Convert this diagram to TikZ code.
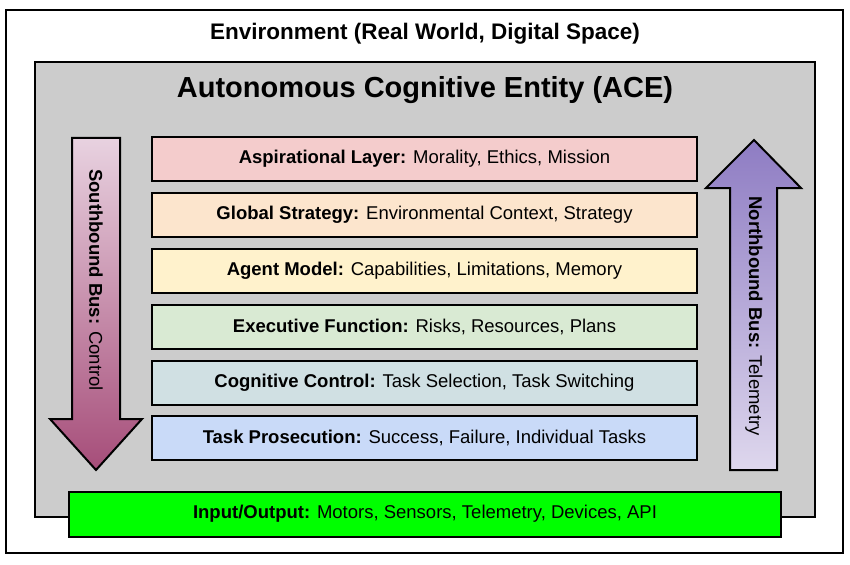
\documentclass[tikz,border=0pt]{standalone}
\usepackage{fontspec}
\setmainfont{Liberation Sans}
\begin{document}
\begin{tikzpicture}[x=1pt,y=-1pt,line width=2pt,
 layer/.style={draw=black,minimum width=545pt,minimum height=44pt,font=\fontsize{18.5}{22}\selectfont,inner sep=0pt},
 lbl/.style={font=\fontsize{18.5}{22}\selectfont,rotate=-90}]
\definecolor{c1}{HTML}{F4CCCC}\definecolor{c2}{HTML}{FCE5CD}\definecolor{c3}{HTML}{FFF2CC}
\definecolor{c4}{HTML}{D9EAD3}\definecolor{c5}{HTML}{D0E0E3}\definecolor{c6}{HTML}{C9DAF8}
\useasboundingbox[fill=white] (0,0) rectangle (850,564);
\draw[fill=white] (6,10) rectangle (843,553);
\node[font=\bfseries\fontsize{22.5}{26}\selectfont] (env) at (425,34) {Environment (Real World, Digital Space)};
\draw[fill=black!20] (35,62) rectangle (815,517);
\node[font=\bfseries\fontsize{29}{32}\selectfont] (ace) at (425,90) {Autonomous Cognitive Entity (ACE)};
\node[layer,fill=c1] (l1) at (424.5,159) {\textbf{Aspirational Layer:} Morality, Ethics, Mission};
\node[layer,fill=c2] (l2) at (424.5,215) {\textbf{Global Strategy:} Environmental Context, Strategy};
\node[layer,fill=c3] (l3) at (424.5,271) {\textbf{Agent Model:} Capabilities, Limitations, Memory};
\node[layer,fill=c4] (l4) at (424.5,327) {\textbf{Executive Function:} Risks, Resources, Plans};
\node[layer,fill=c5] (l5) at (424.5,383) {\textbf{Cognitive Control:} Task Selection, Task Switching};
\node[layer,fill=c6] (l6) at (424.5,438) {\textbf{Task Prosecution:} Success, Failure, Individual Tasks};
\draw[top color={rgb,255:red,232;green,210;blue,224},bottom color={rgb,255:red,166;green,77;blue,121},draw=black]
 (72,138) -- (120,138) -- (120,419) -- (142,419) -- (96,470) -- (50,419) -- (72,419) -- cycle;
\node[lbl] (sb) at (96,280) {\textbf{Southbound Bus:} Control};
\draw[top color={rgb,255:red,142;green,124;blue,195},bottom color={rgb,255:red,222;green,215;blue,237},draw=black]
 (730,470) -- (777,470) -- (777,188) -- (801,188) -- (754,140) -- (706,188) -- (730,188) -- cycle;
\node[lbl] (nb) at (754,316) {\textbf{Northbound Bus:} Telemetry};
\node[draw=black,fill=green,minimum width=712pt,minimum height=45pt,inner sep=0pt,font=\fontsize{18.5}{22}\selectfont] (io) at (425,514) {\textbf{Input/Output:} Motors, Sensors, Telemetry, Devices, API};
\end{tikzpicture}
\end{document}
